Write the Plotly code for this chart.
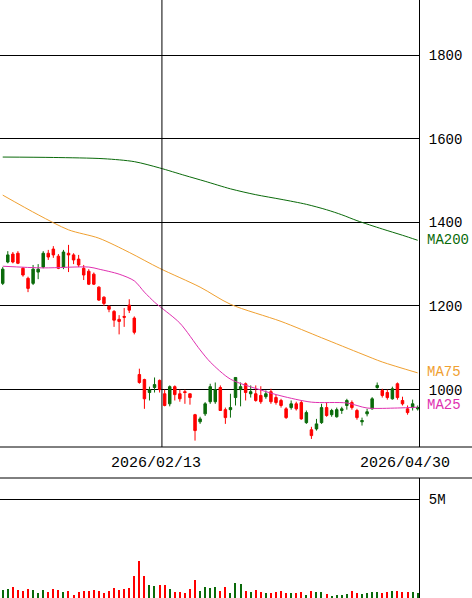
import plotly.graph_objects as go

# daily bars, 2025/12/25 - 2026/04/30
dates = [
    '2025-12-25', '2025-12-26', '2025-12-29', '2025-12-30', '2026-01-05', '2026-01-06', '2026-01-07',
    '2026-01-08', '2026-01-09', '2026-01-13', '2026-01-14', '2026-01-15', '2026-01-16', '2026-01-19',
    '2026-01-20', '2026-01-21', '2026-01-22', '2026-01-23', '2026-01-26', '2026-01-27', '2026-01-28',
    '2026-01-29', '2026-01-30', '2026-02-02', '2026-02-03', '2026-02-04', '2026-02-05', '2026-02-06',
    '2026-02-09', '2026-02-10', '2026-02-12', '2026-02-13', '2026-02-16', '2026-02-17', '2026-02-18',
    '2026-02-19', '2026-02-20', '2026-02-24', '2026-02-25', '2026-02-26', '2026-02-27', '2026-03-02',
    '2026-03-03', '2026-03-04', '2026-03-05', '2026-03-06', '2026-03-09', '2026-03-10', '2026-03-11',
    '2026-03-12', '2026-03-13', '2026-03-16', '2026-03-17', '2026-03-18', '2026-03-19', '2026-03-23',
    '2026-03-24', '2026-03-25', '2026-03-26', '2026-03-27', '2026-03-30', '2026-03-31', '2026-04-01',
    '2026-04-02', '2026-04-03', '2026-04-06', '2026-04-07', '2026-04-08', '2026-04-09', '2026-04-10',
    '2026-04-13', '2026-04-14', '2026-04-15', '2026-04-16', '2026-04-17', '2026-04-20', '2026-04-21',
    '2026-04-22', '2026-04-23', '2026-04-24', '2026-04-27', '2026-04-28', '2026-04-30',
]
opens = [
    1254, 1305, 1324, 1326, 1290, 1266, 1254, 1281, 1293, 1326, 1336, 1319, 1293, 1326, 1322, 1312,
    1290, 1283, 1276, 1245, 1221, 1199, 1187, 1168, 1175, 1202, 1171, 1036, 1024, 993, 1005, 1022,
    990, 966, 1007, 990, 995, 990, 940, 923, 942, 971, 971, 1005, 952, 952, 981, 1000, 1014, 990,
    990, 986, 983, 995, 981, 974, 954, 957, 966, 969, 921, 904, 906, 921, 957, 940, 935, 950, 962,
    969, 950, 923, 942, 954, 1005, 998, 993, 978, 1014, 974, 954, 957, 954,
]
highs = [
    1293, 1331, 1329, 1331, 1293, 1270, 1298, 1300, 1331, 1334, 1343, 1324, 1334, 1346, 1326, 1322,
    1298, 1288, 1280, 1247, 1223, 1202, 1190, 1178, 1195, 1216, 1175, 1050, 1026, 1007, 1029, 1024,
    1000, 1010, 1010, 1000, 1000, 990, 942, 935, 970, 1014, 1017, 1010, 957, 990, 1029, 1017, 1017,
    1010, 1010, 1008, 998, 1002, 988, 978, 958, 974, 971, 974, 950, 911, 930, 966, 969, 954, 957,
    959, 978, 974, 954, 933, 954, 982, 1017, 1002, 1000, 1007, 1017, 983, 962, 976, 962,
]
lows = [
    1250, 1302, 1302, 1300, 1270, 1233, 1250, 1264, 1290, 1310, 1315, 1288, 1288, 1281, 1300, 1293,
    1262, 1250, 1250, 1212, 1200, 1185, 1150, 1132, 1150, 1183, 1132, 1014, 954, 974, 993, 993,
    960, 960, 974, 971, 966, 964, 878, 918, 937, 966, 966, 950, 918, 933, 962, 960, 974, 981,
    971, 966, 978, 966, 964, 957, 930, 952, 950, 928, 918, 882, 902, 918, 935, 935, 933, 942, 952,
    952, 928, 914, 936, 952, 1002, 981, 976, 976, 976, 962, 940, 950, 950,
]
closes = [
    1288, 1322, 1305, 1302, 1274, 1242, 1288, 1288, 1326, 1317, 1322, 1290, 1329, 1322, 1310, 1298,
    1274, 1252, 1252, 1214, 1206, 1192, 1166, 1163, 1173, 1190, 1137, 1017, 978, 1000, 1012, 1000,
    962, 1007, 988, 978, 993, 981, 902, 930, 966, 1007, 1000, 950, 933, 957, 1029, 1007, 993, 995,
    974, 971, 990, 971, 969, 962, 933, 966, 954, 930, 945, 890, 918, 957, 938, 950, 952, 954, 974,
    957, 933, 926, 947, 978, 1010, 986, 981, 1002, 981, 966, 945, 966, 957,
]
volumes = [
    420000, 470000, 555000, 420000, 370000, 470000, 420000, 250000, 405000, 320000, 470000, 405000,
    300000, 370000, 165000, 320000, 370000, 370000, 420000, 370000, 270000, 370000, 505000, 420000,
    470000, 520000, 1110000, 1885000, 1110000, 655000, 605000, 655000, 655000, 455000, 320000,
    320000, 250000, 455000, 910000, 370000, 555000, 505000, 555000, 370000, 555000, 250000, 775000,
    720000, 370000, 300000, 405000, 320000, 250000, 250000, 290000, 370000, 270000, 250000, 270000,
    320000, 165000, 370000, 320000, 290000, 215000, 115000, 165000, 165000, 215000, 370000, 270000,
    215000, 270000, 320000, 320000, 270000, 290000, 370000, 370000, 290000, 290000, 320000, 270000,
]

# moving averages
ma200_dates = ['2025-12-25', '2026-01-14', '2026-01-28', '2026-02-05', '2026-02-13', '2026-02-20',
               '2026-02-27', '2026-03-06', '2026-03-13', '2026-03-23', '2026-03-30', '2026-04-03',
               '2026-04-08', '2026-04-13', '2026-04-20', '2026-04-24', '2026-04-30']
ma200 = [1556, 1555, 1552, 1545, 1530, 1512, 1498, 1480, 1466, 1455, 1443, 1430, 1418, 1404, 1384, 1369, 1357]
ma75_dates = ['2025-12-25', '2026-01-08', '2026-01-19', '2026-01-27', '2026-02-04', '2026-02-13',
              '2026-02-26', '2026-03-06', '2026-03-23', '2026-04-02', '2026-04-14', '2026-04-20', '2026-04-30']
ma75 = [1465, 1418, 1382, 1362, 1328, 1290, 1245, 1204, 1163, 1124, 1085, 1066, 1040]
ma25_dates = ['2025-12-25', '2026-01-09', '2026-01-23', '2026-01-27', '2026-02-02', '2026-02-05',
              '2026-02-09', '2026-02-12', '2026-02-13', '2026-02-19', '2026-02-26', '2026-03-02',
              '2026-03-06', '2026-03-16', '2026-03-23', '2026-03-31', '2026-04-09', '2026-04-15',
              '2026-04-23', '2026-04-30']
ma25 = [1295, 1291, 1293, 1288, 1276, 1260, 1233, 1209, 1199, 1159, 1095, 1066, 1025, 999, 985, 970, 968, 956, 956, 958]

price_ticks = [1000, 1200, 1400, 1600, 1800]
date_marks = ['2026-02-13', '2026-04-30']
date_labels = ['2026/02/13', '2026/04/30']

UP = '#0a6a0a'
DOWN = '#ff0000'
C200 = '#0a6a0a'
C75 = '#f0a030'
C25 = '#e030b0'
FONT = 'Liberation Mono'

W, H = 472, 598
PLOT_R = 419
price_bottom = 447
vol_top = 478

fig = go.Figure()
fig.add_trace(go.Candlestick(
    x=dates, open=opens, high=highs, low=lows, close=closes,
    increasing=dict(line=dict(color=UP, width=1), fillcolor=UP),
    decreasing=dict(line=dict(color=DOWN, width=1), fillcolor=DOWN),
    whiskerwidth=0, showlegend=False, xaxis='x', yaxis='y'))

for d, v, c in [(ma200_dates, ma200, C200), (ma75_dates, ma75, C75), (ma25_dates, ma25, C25)]:
    fig.add_trace(go.Scatter(x=d, y=v, mode='lines', line=dict(color=c, width=1, shape='spline', smoothing=0.8),
                             showlegend=False, xaxis='x', yaxis='y'))

vol_colors = [UP if c >= o else DOWN for o, c in zip(opens, closes)]
fig.add_trace(go.Bar(x=dates, y=volumes, marker=dict(color=vol_colors, line=dict(width=0)),
                     width=0.22, showlegend=False, xaxis='x2', yaxis='y2'))

xr = [-0.54, len(dates) - 0.74]
y_lo = 1000 - (price_bottom - 389.6) * 2.391
y_hi = 1800 + 55 * 2.391

fig.update_layout(
    width=W, height=H, margin=dict(l=0, r=0, t=0, b=0),
    paper_bgcolor='white', plot_bgcolor='white',
    font=dict(family=FONT, size=14, color='black'),
    xaxis=dict(domain=[0, PLOT_R / W], type='category', range=xr, showticklabels=False,
               showgrid=False, zeroline=False, rangeslider=dict(visible=False), anchor='y'),
    yaxis=dict(domain=[1 - price_bottom / H, 1], range=[y_lo, y_hi], side='right',
               tickvals=price_ticks, showgrid=True, gridcolor='black', gridwidth=1,
               showline=True, linecolor='black', linewidth=1, ticks='', ticklabelstandoff=6,
               zeroline=False, anchor='x'),
    xaxis2=dict(domain=[0, PLOT_R / W], type='category', range=xr, showticklabels=False,
                showgrid=False, zeroline=False, anchor='y2', matches='x'),
    yaxis2=dict(domain=[0, (H - vol_top) / H], range=[0, 5e6 * (H - vol_top) / 99], side='right',
                tickvals=[5e6], ticktext=['5M'], showgrid=True, gridcolor='black', gridwidth=1,
                showline=True, linecolor='black', linewidth=1, ticks='', ticklabelstandoff=6,
                zeroline=False, anchor='x2'),
    bargap=0,
)

# panel borders and the 02/13 marker line
for yy in (price_bottom, vol_top):
    fig.add_shape(type='line', xref='paper', yref='paper', x0=0, x1=1,
                  y0=1 - yy / H, y1=1 - yy / H, line=dict(color='black', width=1))
fig.add_shape(type='line', xref='x', yref='paper', x0=dates.index(date_marks[0]) + 0.46,
              x1=dates.index(date_marks[0]) + 0.46, y0=1 - price_bottom / H, y1=1,
              line=dict(color='black', width=1))

for d, t, shift in zip(date_marks, date_labels, (-4, -13)):
    fig.add_annotation(x=d, y=1 - 463 / H, xref='x', yref='paper', text=t, showarrow=False,
                       xanchor='center', yanchor='middle', xshift=shift,
                       font=dict(family=FONT, size=15, color='black'))

# MA labels at the right edge
for name, v, c in [('MA200', ma200[-1], C200), ('MA75', ma75[-1] + 3, C75), ('MA25', ma25[-1] + 6, C25)]:
    fig.add_annotation(x=(PLOT_R + 6) / W, y=v, xref='paper', yref='y', text=name, showarrow=False,
                       xanchor='left', yanchor='middle', font=dict(family=FONT, size=14, color=c))

fig.write_html('out.html', config={'displayModeBar': False},
               post_script="document.body.style.margin='0';document.body.style.overflow='hidden';")
